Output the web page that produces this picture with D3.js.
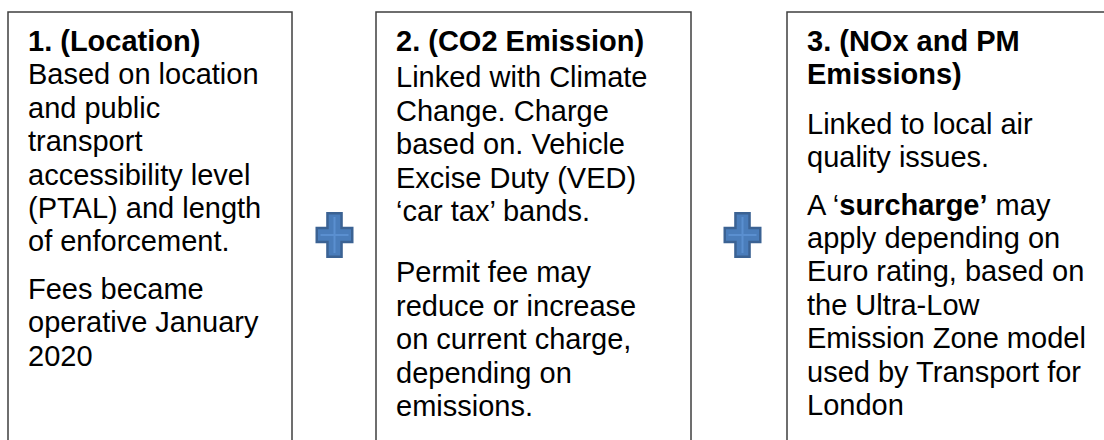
<!DOCTYPE html>
<html>
<head>
<meta charset="utf-8">
<style>
body { margin: 0; background: #fff; }
svg { display: block; }
.box { fill: #fff; stroke: #3f3f3f; stroke-width: 1.5; }
.txt { font-family: "Liberation Sans", Arial, sans-serif; font-size: 29px; fill: #000; }
.bold { font-weight: bold; }
</style>
</head>
<body>
<svg width="1104" height="440"></svg>
<script src="https://d3js.org/d3.v7.min.js"></script>
<script>
// text of the three boxes: title lines, then paragraphs of body lines
var titles = [
  ["1. (Location)"],
  ["2. (CO2 Emission)"],
  ["3. (NOx and PM", "Emissions)"]
];
var paragraphs = [
  [["Based on location", "and public", "transport", "accessibility level", "(PTAL) and length", "of enforcement."],
   ["Fees became", "operative January", "2020"]],
  [["Linked with Climate", "Change. Charge", "based on. Vehicle", "Excise Duty (VED)", "\u2018car tax\u2019 bands."],
   ["Permit fee may", "reduce or increase", "on current charge,", "depending on", "emissions."]],
  [["Linked to local air", "quality issues."],
   ["A \u2018|surcharge\u2019| may", "apply depending on", "Euro rating, based on", "the Ultra-Low", "Emission Zone model", "used by Transport for", "London"]]
];

// layout
var boxLeft = [8, 376, 787],
    boxRight = [292, 691, 1120],
    boxTop = 12,
    padX = 20,
    firstBase = 51,
    lineH = 33.4,
    gapAfterTitle = [0, 3, 16],
    gapBetweenParas = [14, 28, 14],
    plusX = [334.5, 742.5],
    plusY = 235;

var svg = d3.select("svg");

var boxes = svg.selectAll("g.card")
  .data(titles)
  .enter().append("g")
    .attr("class", "card");

boxes.append("rect")
  .attr("class", "box")
  .attr("x", function(d, i) { return boxLeft[i]; })
  .attr("y", boxTop)
  .attr("width", function(d, i) { return boxRight[i] - boxLeft[i]; })
  .attr("height", 460);

boxes.each(function(t, i) {
  var g = d3.select(this),
      x = boxLeft[i] + padX,
      y = firstBase;
  t.forEach(function(line, k) {
    g.append("text").attr("class", "txt bold").attr("x", x).attr("y", y).text(line);
    y += lineH;
  });
  y += gapAfterTitle[i];
  paragraphs[i].forEach(function(par, p) {
    if (p > 0) y += gapBetweenParas[i];
    par.forEach(function(line) {
      var tx = g.append("text").attr("class", "txt").attr("x", x).attr("y", y);
      // "|" marks a bold run inside a line
      line.split("|").forEach(function(part, j) {
        tx.append("tspan").attr("class", j % 2 ? "bold" : null).text(part);
      });
      y += lineH;
    });
  });
});

// blue plus signs between the boxes
function plusPath(cx, cy, hw, hh, a) {
  return "M" + (cx - a) + "," + (cy - hh) + "H" + (cx + a) + "V" + (cy - a) +
    "H" + (cx + hw) + "V" + (cy + a) + "H" + (cx + a) + "V" + (cy + hh) +
    "H" + (cx - a) + "V" + (cy + a) + "H" + (cx - hw) + "V" + (cy - a) +
    "H" + (cx - a) + "Z";
}

var plus = svg.selectAll("g.plus")
  .data(plusX)
  .enter().append("g")
    .attr("class", "plus");

plus.append("path")
  .attr("d", function(d) { return plusPath(d, plusY, 19, 23, 8.3); })
  .attr("fill", "#3b6293");
plus.append("path")
  .attr("d", function(d) { return plusPath(d, plusY, 16.5, 20.5, 5.8); })
  .attr("fill", "#4a7dbb");
plus.append("path")
  .attr("d", function(d) {
    return "M" + d + "," + (plusY - 18) + "V" + (plusY + 18) +
      "M" + (d - 14) + "," + plusY + "H" + (d + 14);
  })
  .attr("stroke", "#5a8fd0")
  .attr("stroke-width", 2)
  .attr("fill", "none");
</script>
</body>
</html>
